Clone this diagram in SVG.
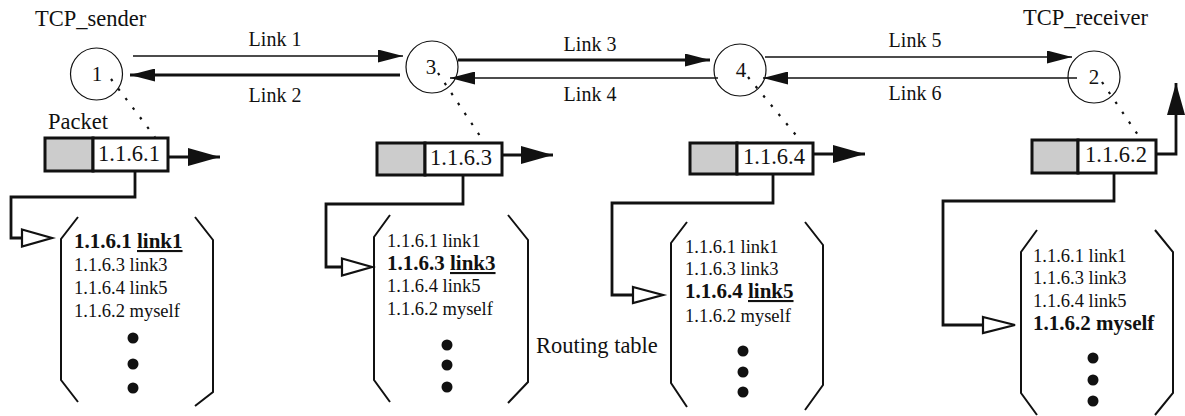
<svg xmlns="http://www.w3.org/2000/svg" width="1185" height="416" viewBox="0 0 1185 416">
  <style>
    text { font-family: "Liberation Serif", "Times New Roman", serif; fill: #111; }
    .lbl { font-size: 22.5px; }
    .link { font-size: 20px; text-anchor: middle; }
    .num { font-size: 21px; text-anchor: middle; }
    .addr { font-size: 22.5px; text-anchor: middle; }
    .row { font-size: 18.5px; }
    .rowb { font-size: 21px; font-weight: bold; }
    .node { fill: none; stroke: #111; stroke-width: 1.2; }
    .thin { fill: none; stroke: #111; stroke-width: 1.3; }
    .thick { fill: none; stroke: #111; stroke-width: 2.8; }
    .dots { fill: none; stroke: #111; stroke-width: 2.2; stroke-dasharray: 2.5 9.5; }
    .hdr { fill: #cccccc; stroke: #111; stroke-width: 3; }
    .body { fill: #fff; stroke: #111; stroke-width: 3; }
    .wire { fill: none; stroke: #111; stroke-width: 2.8; stroke-linejoin: miter; }
    .open { fill: #fff; stroke: #111; stroke-width: 2.2; stroke-linejoin: miter; }
    .brk { fill: none; stroke: #111; stroke-width: 2; }
    .dot { fill: #111; }
  </style>
  <defs>
    <marker id="head" viewBox="0 0 25 13" refX="25" refY="6.5" markerWidth="25" markerHeight="13" markerUnits="userSpaceOnUse" orient="auto">
      <path d="M0,0 L25,6.5 L0,13 z" fill="#111"/>
    </marker>
    <marker id="bighead" viewBox="0 0 32 18" refX="32" refY="9" markerWidth="32" markerHeight="18" markerUnits="userSpaceOnUse" orient="auto">
      <path d="M0,0 L32,9 L0,18 z" fill="#111"/>
    </marker>
  </defs>

  <!-- connectors: links between routers, packet ties and table lookups -->
  <g id="connectors">
    <line class="thin" x1="133" y1="56" x2="403" y2="56" marker-end="url(#head)"/>
    <line class="thick" x1="400" y1="75" x2="130" y2="75" marker-end="url(#head)"/>
    <line class="thick" x1="458" y1="60" x2="710" y2="60" marker-end="url(#head)"/>
    <line class="thin" x1="718" y1="78" x2="450" y2="78" marker-end="url(#head)"/>
    <line class="thin" x1="765" y1="57" x2="1072" y2="57" marker-end="url(#head)"/>
    <line class="thin" x1="1077" y1="78" x2="763" y2="78" marker-end="url(#head)"/>

    <line class="dots" x1="111" y1="79" x2="155" y2="137"/>
    <line class="dots" x1="438" y1="73" x2="482" y2="139"/>
    <line class="dots" x1="748" y1="77" x2="800" y2="140"/>
    <line class="dots" x1="1102" y1="82" x2="1140" y2="138"/>

    <line class="thick" x1="168" y1="157" x2="220" y2="157" marker-end="url(#bighead)"/>
    <line class="thick" x1="502" y1="155" x2="553" y2="155" marker-end="url(#bighead)"/>
    <line class="thick" x1="813" y1="154" x2="865" y2="154" marker-end="url(#bighead)"/>
    <path class="thick" d="M1156,154 H1176 V83" marker-end="url(#bighead)"/>

    <path class="wire" d="M135,171 V197 H11 V238 H22"/>
    <polygon class="open" points="22,229.5 52,238 22,246.5"/>
    <path class="wire" d="M463,175 V204 H326 V267 H342"/>
    <polygon class="open" points="342,258.5 372,267 342,275.5"/>
    <path class="wire" d="M773,174 V203 H612 V295 H633"/>
    <polygon class="open" points="633,287 663,295 633,303"/>
    <path class="wire" d="M1114,173 V201 H943 V325 H983"/>
    <polygon class="open" points="983,317 1015,325 983,333"/>
  </g>

  <!-- routers -->
  <g id="node1">
    <circle class="node" cx="96.5" cy="74" r="26"/>
    <text class="num" x="97" y="81">1</text>
    <text class="lbl" x="35" y="26">TCP_sender</text>
  </g>
  <g id="node3">
    <circle class="node" cx="432" cy="67" r="26"/>
    <text class="num" x="431" y="74">3</text>
  </g>
  <g id="node4">
    <circle class="node" cx="740" cy="70" r="26"/>
    <text class="num" x="741" y="77">4</text>
  </g>
  <g id="node2">
    <circle class="node" cx="1094" cy="77" r="26"/>
    <text class="num" x="1094" y="84">2</text>
    <text class="lbl" x="1023" y="25">TCP_receiver</text>
  </g>

  <!-- link labels -->
  <g id="link-labels">
    <text class="link" x="275" y="46">Link 1</text>
    <text class="link" x="275" y="102">Link 2</text>
    <text class="link" x="590" y="51">Link 3</text>
    <text class="link" x="590" y="101">Link 4</text>
    <text class="link" x="915" y="47">Link 5</text>
    <text class="link" x="915" y="100">Link 6</text>
  </g>

  <!-- packets -->
  <g id="packet1">
    <text class="lbl" x="48" y="129">Packet</text>
    <rect class="hdr" x="45" y="138" width="48" height="33"/>
    <rect class="body" x="93" y="138" width="75" height="33"/>
    <text class="addr" x="129" y="161">1.1.6.1</text>
  </g>
  <g id="packet3">
    <rect class="hdr" x="377" y="143" width="48" height="32"/>
    <rect class="body" x="425" y="143" width="77" height="32"/>
    <text class="addr" x="461" y="165">1.1.6.3</text>
  </g>
  <g id="packet4">
    <rect class="hdr" x="690" y="143" width="47" height="31"/>
    <rect class="body" x="737" y="143" width="76" height="31"/>
    <text class="addr" x="774" y="164">1.1.6.4</text>
  </g>
  <g id="packet2">
    <rect class="hdr" x="1032" y="140" width="46" height="33"/>
    <rect class="body" x="1078" y="140" width="78" height="33"/>
    <text class="addr" x="1116" y="162">1.1.6.2</text>
  </g>

  <!-- routing tables -->
  <g id="table1">
    <polyline class="brk" points="78,217 61,239 61,380 78,402"/>
    <polyline class="brk" points="195,217 213,240 213,392 195,406"/>
    <text x="74" y="248"><tspan class="rowb">1.1.6.1 </tspan><tspan class="rowb" text-decoration="underline">link1</tspan></text>
    <text class="row" x="74" y="271">1.1.6.3 link3</text>
    <text class="row" x="74" y="294">1.1.6.4 link5</text>
    <text class="row" x="74" y="317">1.1.6.2 myself</text>
    <circle class="dot" cx="133" cy="338" r="5.5"/>
    <circle class="dot" cx="133" cy="364" r="5.5"/>
    <circle class="dot" cx="133" cy="388" r="5.5"/>
  </g>
  <g id="table3">
    <polyline class="brk" points="390,215 374,237 374,380 390,402"/>
    <polyline class="brk" points="508,215 528,240 528,382 508,403"/>
    <text class="row" x="387" y="247">1.1.6.1 link1</text>
    <text x="387" y="270"><tspan class="rowb">1.1.6.3 </tspan><tspan class="rowb" text-decoration="underline">link3</tspan></text>
    <text class="row" x="387" y="292">1.1.6.4 link5</text>
    <text class="row" x="387" y="315">1.1.6.2 myself</text>
    <circle class="dot" cx="447" cy="345" r="5.5"/>
    <circle class="dot" cx="447" cy="365" r="5.5"/>
    <circle class="dot" cx="447" cy="387" r="5.5"/>
  </g>
  <g id="table4">
    <polyline class="brk" points="687,222 671,243 671,383 687,407"/>
    <polyline class="brk" points="805,222 823,245 823,385 805,410"/>
    <text class="row" x="685" y="253">1.1.6.1 link1</text>
    <text class="row" x="685" y="275">1.1.6.3 link3</text>
    <text x="685" y="298"><tspan class="rowb">1.1.6.4 </tspan><tspan class="rowb" text-decoration="underline">link5</tspan></text>
    <text class="row" x="685" y="322">1.1.6.2 myself</text>
    <circle class="dot" cx="743" cy="351" r="5.5"/>
    <circle class="dot" cx="743" cy="372" r="5.5"/>
    <circle class="dot" cx="743" cy="392" r="5.5"/>
    <text class="lbl" x="536" y="353">Routing table</text>
  </g>
  <g id="table2">
    <polyline class="brk" points="1037,230 1021,252 1021,393 1037,415"/>
    <polyline class="brk" points="1155,230 1173,252 1173,393 1155,415"/>
    <text class="row" x="1033" y="262">1.1.6.1 link1</text>
    <text class="row" x="1033" y="284">1.1.6.3 link3</text>
    <text class="row" x="1033" y="307">1.1.6.4 link5</text>
    <text class="rowb" x="1033" y="330">1.1.6.2 myself</text>
    <circle class="dot" cx="1093" cy="358" r="5.5"/>
    <circle class="dot" cx="1093" cy="380" r="5.5"/>
    <circle class="dot" cx="1093" cy="401" r="5.5"/>
  </g>
</svg>
